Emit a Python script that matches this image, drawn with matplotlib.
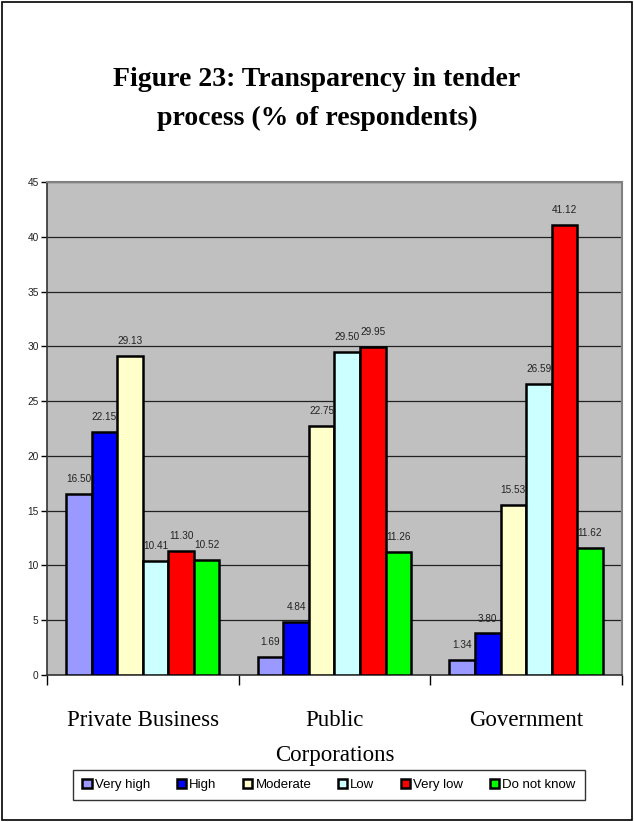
import matplotlib
matplotlib.use("Agg")
import matplotlib.pyplot as plt
import numpy as np
from matplotlib.patches import Rectangle

categories = ["Private Business", "Public\nCorporations", "Government"]
series = ["Very high", "High", "Moderate", "Low", "Very low", "Do not know"]
very_high = [16.50, 1.69, 1.34]
high = [22.15, 4.84, 3.80]
moderate = [29.13, 22.75, 15.53]
low = [10.41, 29.50, 26.59]
very_low = [11.30, 29.95, 41.12]
do_not_know = [10.52, 11.26, 11.62]
yticks = [0, 5, 10, 15, 20, 25, 30, 35, 40, 45]

values = [very_high, high, moderate, low, very_low, do_not_know]
colors = ["#9999FF", "#0000FF", "#FFFFCC", "#CCFFFF", "#FF0000", "#00FF00"]

serif = ["Liberation Serif", "DejaVu Serif"]
sans = ["Liberation Sans", "DejaVu Sans"]

fig = plt.figure(figsize=(6.34, 8.22), dpi=100)
fig.patches.append(Rectangle((0.003, 0.002), 0.994, 0.995, transform=fig.transFigure,
                             fill=False, edgecolor="black", linewidth=1.2))

ax = fig.add_axes([0.074, 0.1788, 0.907, 0.5998])
ax.set_facecolor("#C0C0C0")

n = len(series)
group = 0.8
w = group / n
x = np.arange(len(categories))
for i, (name, vals, c) in enumerate(zip(series, values, colors)):
    pos = x - group / 2 + w * (i + 0.5)
    ax.bar(pos, vals, width=w, color=c, edgecolor="black", linewidth=1.8,
           label=name, zorder=3)
    for px, v in zip(pos, vals):
        ax.text(px, v + 0.9, f"{v:.2f}", ha="center", va="bottom",
                fontsize=7.2, family=sans, color="#222222", zorder=4)

ax.set_xlim(-0.5, len(categories) - 0.5)
ax.set_ylim(0, 45)
ax.set_yticks(yticks)
ax.set_yticklabels([str(t) for t in yticks], family=sans, fontsize=7.3, color="#222222")
ax.yaxis.grid(True, color="#222222", linewidth=0.9, zorder=1)
ax.set_axisbelow(True)

ax.set_xticks(np.arange(len(categories) + 1) - 0.5)
ax.set_xticklabels([])
ax.set_xticks(x, minor=True)
ax.set_xticklabels(categories, minor=True, family=serif, fontsize=16.5,
                   linespacing=1.9)
ax.tick_params(axis="x", which="major", direction="out", length=7, width=1)
ax.tick_params(axis="x", which="minor", length=0, pad=25)
ax.tick_params(axis="y", direction="out", length=4, width=1, pad=2)

for s in ["left", "bottom"]:
    ax.spines[s].set_color("#333333")
    ax.spines[s].set_linewidth(1.2)
for s in ["top", "right"]:
    ax.spines[s].set_color("#808080")
    ax.spines[s].set_linewidth(1.5)

fig.text(0.5, 0.8796, "Figure 23: Transparency in tender\nprocess (% of respondents)",
         ha="center", va="center", family=serif, fontsize=20, fontweight="bold",
         linespacing=1.68)

leg = fig.legend(loc="center", bbox_to_anchor=(0.519, 0.045), ncol=6, frameon=True,
                 fancybox=False, edgecolor="black", prop={"family": sans, "size": 9.5},
                 handlelength=0.7, handleheight=0.7, handletextpad=0.25,
                 columnspacing=2.0, borderpad=0.7)
leg.get_frame().set_linewidth(1.0)
for h in leg.legend_handles:
    h.set_linewidth(1.8)

fig.savefig("out.png", dpi=100)
